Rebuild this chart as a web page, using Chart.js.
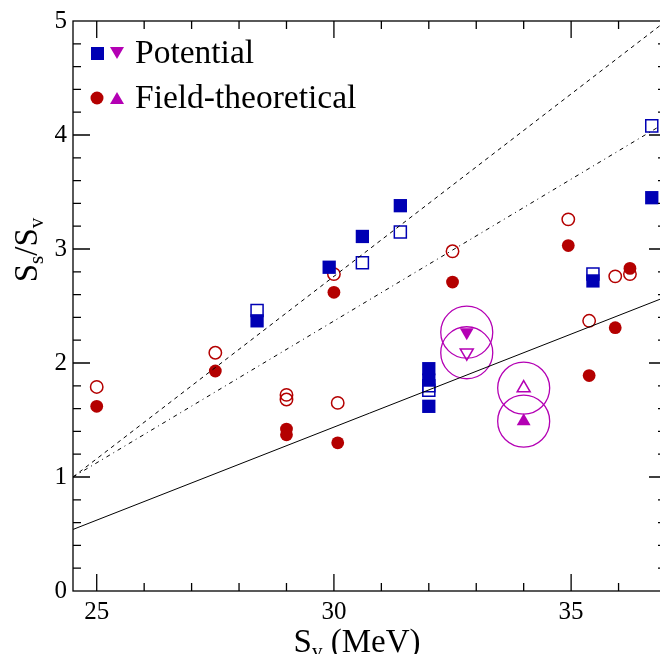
<!DOCTYPE html>
<html>
<head>
<meta charset="utf-8">
<script src="https://cdn.jsdelivr.net/npm/chart.js@4.4.1/dist/chart.umd.min.js"></script>
<style>
  html, body { margin: 0; padding: 0; background: #fff; overflow: hidden; }
  #wrap { position: relative; width: 680px; height: 654px; }
</style>
</head>
<body>
<div id="wrap"><canvas id="chart"></canvas></div>
<script>
// Potential models (squares)
var potFilledX = [28.38, 29.9, 30.6, 31.4, 32.0, 32.0, 32.0, 35.46, 36.7];
var potFilledY = [2.37, 2.84, 3.11, 3.38, 1.95, 1.85, 1.62, 2.72, 3.45];
var potOpenX = [28.38, 30.6, 31.4, 32.0, 32.0, 35.46, 36.7];
var potOpenY = [2.46, 2.88, 3.15, 1.80, 1.76, 2.78, 4.08];

// Field-theoretical models (circles)
var ftFilledX = [25.0, 27.5, 29.0, 29.0, 30.0, 30.08, 32.5, 34.94, 35.38, 35.93, 36.24];
var ftFilledY = [1.62, 1.93, 1.42, 1.37, 2.62, 1.30, 2.71, 3.03, 1.89, 2.31, 2.83];
var ftOpenX = [25.0, 27.5, 29.0, 29.0, 30.0, 30.08, 32.5, 34.94, 35.38, 35.93, 36.24];
var ftOpenY = [1.79, 2.09, 1.72, 1.68, 2.78, 1.65, 2.98, 3.26, 2.37, 2.76, 2.78];

// triangles (circled)
var potTriX = [32.8];
var potTriFilledY = [2.27];
var potTriOpenY = [2.09];
var ftTriX = [34.0];
var ftTriFilledY = [1.49];
var ftTriOpenY = [1.78];

// reference lines
var lineX = [24.5, 37.0];
var dashedY = [1.0, 5.0];
var dashDotY = [1.0, 4.11];
var solidY = [0.54, 2.58];

var xTicks = [25, 30, 35];
var yTicks = [0, 1, 2, 3, 4, 5];

var BLUE = "#0000b4";
var RED = "#b40000";
var MAG = "#b400b4";
var SERIF = "'Liberation Serif', 'DejaVu Serif', serif";

function pts(xs, ys) {
  var out = [];
  for (var i = 0; i < ys.length; i++) {
    out.push({ x: xs.length === 1 ? xs[0] : xs[i], y: ys[i] });
  }
  return out;
}

function marks(data, style, filled, color, radius, rotation) {
  return {
    data: data,
    pointStyle: style,
    pointRadius: radius,
    pointHoverRadius: radius,
    pointRotation: rotation || 0,
    pointBackgroundColor: filled ? color : "rgba(0,0,0,0)",
    pointBorderColor: color,
    pointBorderWidth: filled ? 0 : 1.5,
    showLine: false,
    order: 2
  };
}

function refLine(ys, dash) {
  return {
    data: pts(lineX, ys),
    showLine: true,
    borderColor: "#000",
    borderWidth: 1,
    borderDash: dash,
    pointRadius: 0,
    order: 0
  };
}

var ringData = pts(potTriX, potTriFilledY)
  .concat(pts(potTriX, potTriOpenY))
  .concat(pts(ftTriX, ftTriOpenY))
  .concat(pts(ftTriX, ftTriFilledY));

// inward ticks, frame, axis titles and legend
var decor = {
  id: "decor",
  afterDraw: function(chart) {
    var ctx = chart.ctx;
    var a = chart.chartArea;
    var xs = chart.scales.x;
    var ys = chart.scales.y;
    ctx.save();
    ctx.strokeStyle = "#000";
    ctx.lineWidth = 1.3;
    ctx.strokeRect(a.left, a.top, a.right - a.left, a.bottom - a.top);
    ctx.beginPath();
    for (var v = 25; v <= 36; v++) {
      var px = xs.getPixelForValue(v);
      var len = v % 5 === 0 ? 17 : 8;
      ctx.moveTo(px, a.bottom);
      ctx.lineTo(px, a.bottom - len);
      ctx.moveTo(px, a.top);
      ctx.lineTo(px, a.top + len);
    }
    for (var k = 1; k < 25; k++) {
      var py = ys.getPixelForValue(k * 0.2);
      var l2 = k % 5 === 0 ? 17 : 8;
      ctx.moveTo(a.left, py);
      ctx.lineTo(a.left + l2, py);
      ctx.moveTo(a.right, py);
      ctx.lineTo(a.right - l2, py);
    }
    ctx.stroke();

    // x title: S_v (MeV)
    ctx.fillStyle = "#000";
    ctx.textBaseline = "alphabetic";
    ctx.textAlign = "left";
    var big = "33px " + SERIF;
    var small = "21px " + SERIF;
    ctx.font = big;
    var wS = ctx.measureText("S").width;
    var wRest = ctx.measureText(" (MeV)").width;
    ctx.font = small;
    var wv = ctx.measureText("v").width;
    var tx = 357 - (wS + wv + wRest) / 2;
    var ty = 652;
    ctx.font = big;
    ctx.fillText("S", tx, ty);
    ctx.font = small;
    ctx.fillText("v", tx + wS, ty + 6);
    ctx.font = big;
    ctx.fillText(" (MeV)", tx + wS + wv, ty);

    // y title: S_s/S_v
    ctx.save();
    ctx.translate(37, 250);
    ctx.rotate(-Math.PI / 2);
    ctx.font = big;
    var wSl = ctx.measureText("/").width;
    ctx.font = small;
    var ws = ctx.measureText("s").width;
    var total = wS + ws + wSl + wS + wv;
    var cx = -total / 2;
    ctx.font = big;
    ctx.fillText("S", cx, 0);
    cx += wS;
    ctx.font = small;
    ctx.fillText("s", cx, 6);
    cx += ws;
    ctx.font = big;
    ctx.fillText("/", cx, 0);
    cx += wSl;
    ctx.fillText("S", cx, 0);
    cx += wS;
    ctx.font = small;
    ctx.fillText("v", cx, 6);
    ctx.restore();

    // legend
    ctx.fillStyle = BLUE;
    ctx.fillRect(91, 47, 13, 13);
    ctx.fillStyle = MAG;
    ctx.beginPath();
    ctx.moveTo(110, 47);
    ctx.lineTo(124, 47);
    ctx.lineTo(117, 59);
    ctx.closePath();
    ctx.fill();
    ctx.fillStyle = RED;
    ctx.beginPath();
    ctx.arc(97, 98, 6.5, 0, Math.PI * 2);
    ctx.fill();
    ctx.fillStyle = MAG;
    ctx.beginPath();
    ctx.moveTo(117, 92);
    ctx.lineTo(124, 104);
    ctx.lineTo(110, 104);
    ctx.closePath();
    ctx.fill();
    ctx.fillStyle = "#000";
    ctx.font = "33.5px " + SERIF;
    ctx.fillText("Potential", 135, 63);
    ctx.fillText("Field-theoretical", 135, 108);
    ctx.restore();
  }
};

var ctx = document.getElementById("chart");
var myChart = new Chart(ctx, {
  type: "scatter",
  data: {
    datasets: [
      refLine(dashedY, [4, 4]),
      refLine(dashDotY, [4, 4, 1, 4]),
      refLine(solidY, []),
      marks(pts(potFilledX, potFilledY), "rect", true, BLUE, 9.4),
      marks(pts(potOpenX, potOpenY), "rect", false, BLUE, 8.5),
      marks(pts(ftFilledX, ftFilledY), "circle", true, RED, 6.4),
      marks(pts(ftOpenX, ftOpenY), "circle", false, RED, 6.2),
      marks(pts(potTriX, potTriFilledY), "triangle", true, MAG, 8, 180),
      marks(pts(potTriX, potTriOpenY), "triangle", false, MAG, 7.5, 180),
      marks(pts(ftTriX, ftTriOpenY), "triangle", false, MAG, 7.5),
      marks(pts(ftTriX, ftTriFilledY), "triangle", true, MAG, 8),
      {
        data: ringData,
        pointStyle: "circle",
        pointRadius: 26,
        pointHoverRadius: 26,
        pointBackgroundColor: "rgba(0,0,0,0)",
        pointBorderColor: MAG,
        pointBorderWidth: 1.3,
        showLine: false,
        order: 1
      }
    ]
  },
  options: {
    responsive: true,
    maintainAspectRatio: false,
    animation: false,
    events: [],
    layout: { autoPadding: false, padding: { left: 0, top: 18, right: 14, bottom: 0 } },
    plugins: {
      legend: { display: false },
      tooltip: { enabled: false }
    },
    scales: {
      x: {
        type: "linear",
        min: 24.5,
        max: 37,
        afterBuildTicks: function(scale) {
          scale.ticks = xTicks.map(function(v) { return { value: v }; });
        },
        afterFit: function(scale) { scale.height = 63; },
        grid: { display: false, drawTicks: false },
        border: { display: false },
        ticks: {
          color: "#000",
          padding: 6,
          font: { family: SERIF, size: 25 },
          maxRotation: 0
        }
      },
      y: {
        type: "linear",
        min: 0,
        max: 5,
        afterBuildTicks: function(scale) {
          scale.ticks = yTicks.map(function(v) { return { value: v }; });
        },
        afterFit: function(scale) { scale.width = 73; },
        grid: { display: false, drawTicks: false },
        border: { display: false },
        ticks: {
          color: "#000",
          padding: 6,
          font: { family: SERIF, size: 25 }
        }
      }
    }
  },
  plugins: [decor]
});
</script>
</body>
</html>
